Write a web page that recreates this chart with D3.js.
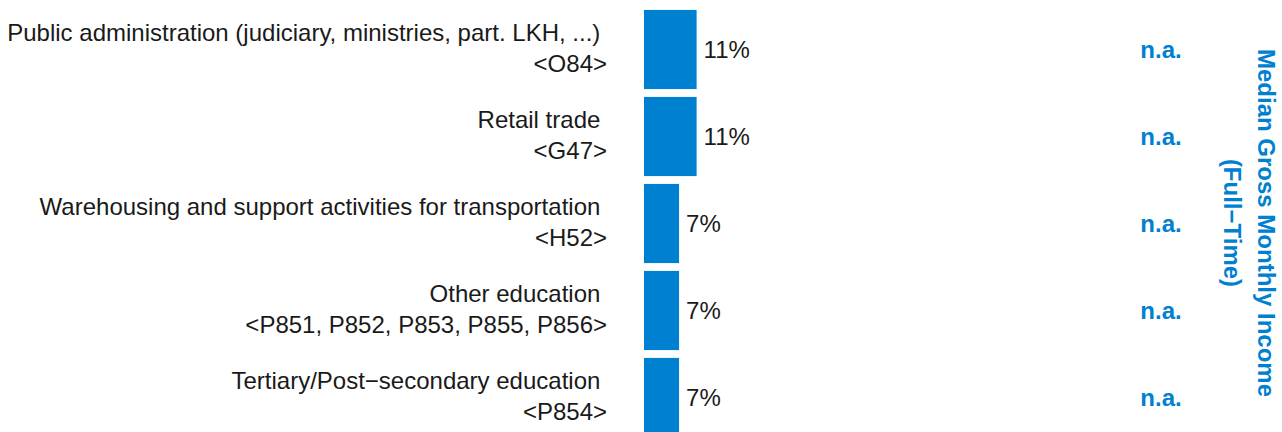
<!DOCTYPE html>
<html lang="en">
<head>
    <meta charset="UTF-8">
    <title>Sector share</title>
    <script src="https://d3js.org/d3.v7.min.js"></script>
    <style>
        body { margin: 0; background: #fff; }
        svg text { white-space: pre; font-family: Arial, "Liberation Sans", Helvetica, sans-serif; }
    </style>
</head>
<body>
    <div id="chart"></div>
    <script>
        // data
        const sectors = [
            "Public administration (judiciary, ministries, part. LKH, ...)",
            "Retail trade",
            "Warehousing and support activities for transportation",
            "Other education",
            "Tertiary/Post\u2212secondary education"
        ];
        const codes = ["<O84>", "<G47>", "<H52>", "<P851, P852, P853, P855, P856>", "<P854>"];
        const shares = [0.108, 0.108, 0.072, 0.072, 0.072];
        const incomes = ["n.a.", "n.a.", "n.a.", "n.a.", "n.a."];
        const titleLines = ["Median Gross Monthly Income", "(Full\u2212Time)"];

        const width = 1282;
        const height = 432;
        const blue = "#0080d0";
        const fontSize = 24;

        const svg = d3.select('#chart')
            .append('svg')
            .attr('width', width)
            .attr('height', height);

        const y = d3.scaleBand()
            .domain(d3.range(sectors.length))
            .range([6, 441])
            .paddingInner(0.09)
            .paddingOuter(0.045);

        const x = d3.scaleLinear().domain([0, 0.2]).range([644, 741.4]);

        const fmt = d3.format('.0%');

        // bars
        svg.selectAll('.bar')
            .data(shares)
            .enter().append('rect')
            .attr('class', 'bar')
            .attr('x', x(0))
            .attr('y', (d, i) => y(i))
            .attr('width', d => x(d) - x(0))
            .attr('height', y.bandwidth())
            .attr('fill', blue);

        // value labels
        svg.selectAll('.val')
            .data(shares)
            .enter().append('text')
            .attr('class', 'val')
            .attr('x', d => x(d) + 7)
            .attr('y', (d, i) => y(i) + y.bandwidth() / 2)
            .attr('dy', '0.35em')
            .attr('font-size', fontSize)
            .attr('fill', '#1a1a1a')
            .text(d => fmt(d));

        // category labels, two lines each
        const cat = svg.selectAll('.cat')
            .data(sectors)
            .enter().append('text')
            .attr('class', 'cat')
            .attr('text-anchor', 'end')
            .attr('font-size', fontSize)
            .attr('fill', '#1a1a1a');

        cat.append('tspan')
            .attr('x', 607)
            .attr('y', (d, i) => y(i) + y.bandwidth() / 2 - 16.5)
            .attr('dy', '0.35em')
            .text(d => d + ' ');

        cat.append('tspan')
            .attr('x', 607)
            .attr('y', (d, i) => y(i) + y.bandwidth() / 2 + 14.5)
            .attr('dy', '0.35em')
            .text((d, i) => codes[i]);

        // income column
        svg.selectAll('.inc')
            .data(incomes)
            .enter().append('text')
            .attr('class', 'inc')
            .attr('x', 1161)
            .attr('y', (d, i) => y(i) + y.bandwidth() / 2)
            .attr('dy', '0.35em')
            .attr('text-anchor', 'middle')
            .attr('font-size', fontSize)
            .attr('font-weight', 'bold')
            .attr('fill', blue)
            .text(d => d);

        // rotated column title
        const title = svg.append('text')
            .attr('transform', 'translate(1266,223) rotate(90)')
            .attr('text-anchor', 'middle')
            .attr('font-size', fontSize)
            .attr('font-weight', 'bold')
            .attr('fill', blue);

        title.selectAll('tspan')
            .data(titleLines)
            .enter().append('tspan')
            .attr('x', 0)
            .attr('y', (d, i) => i * 34)
            .attr('dy', '0.35em')
            .text(d => d);
    </script>
</body>
</html>
